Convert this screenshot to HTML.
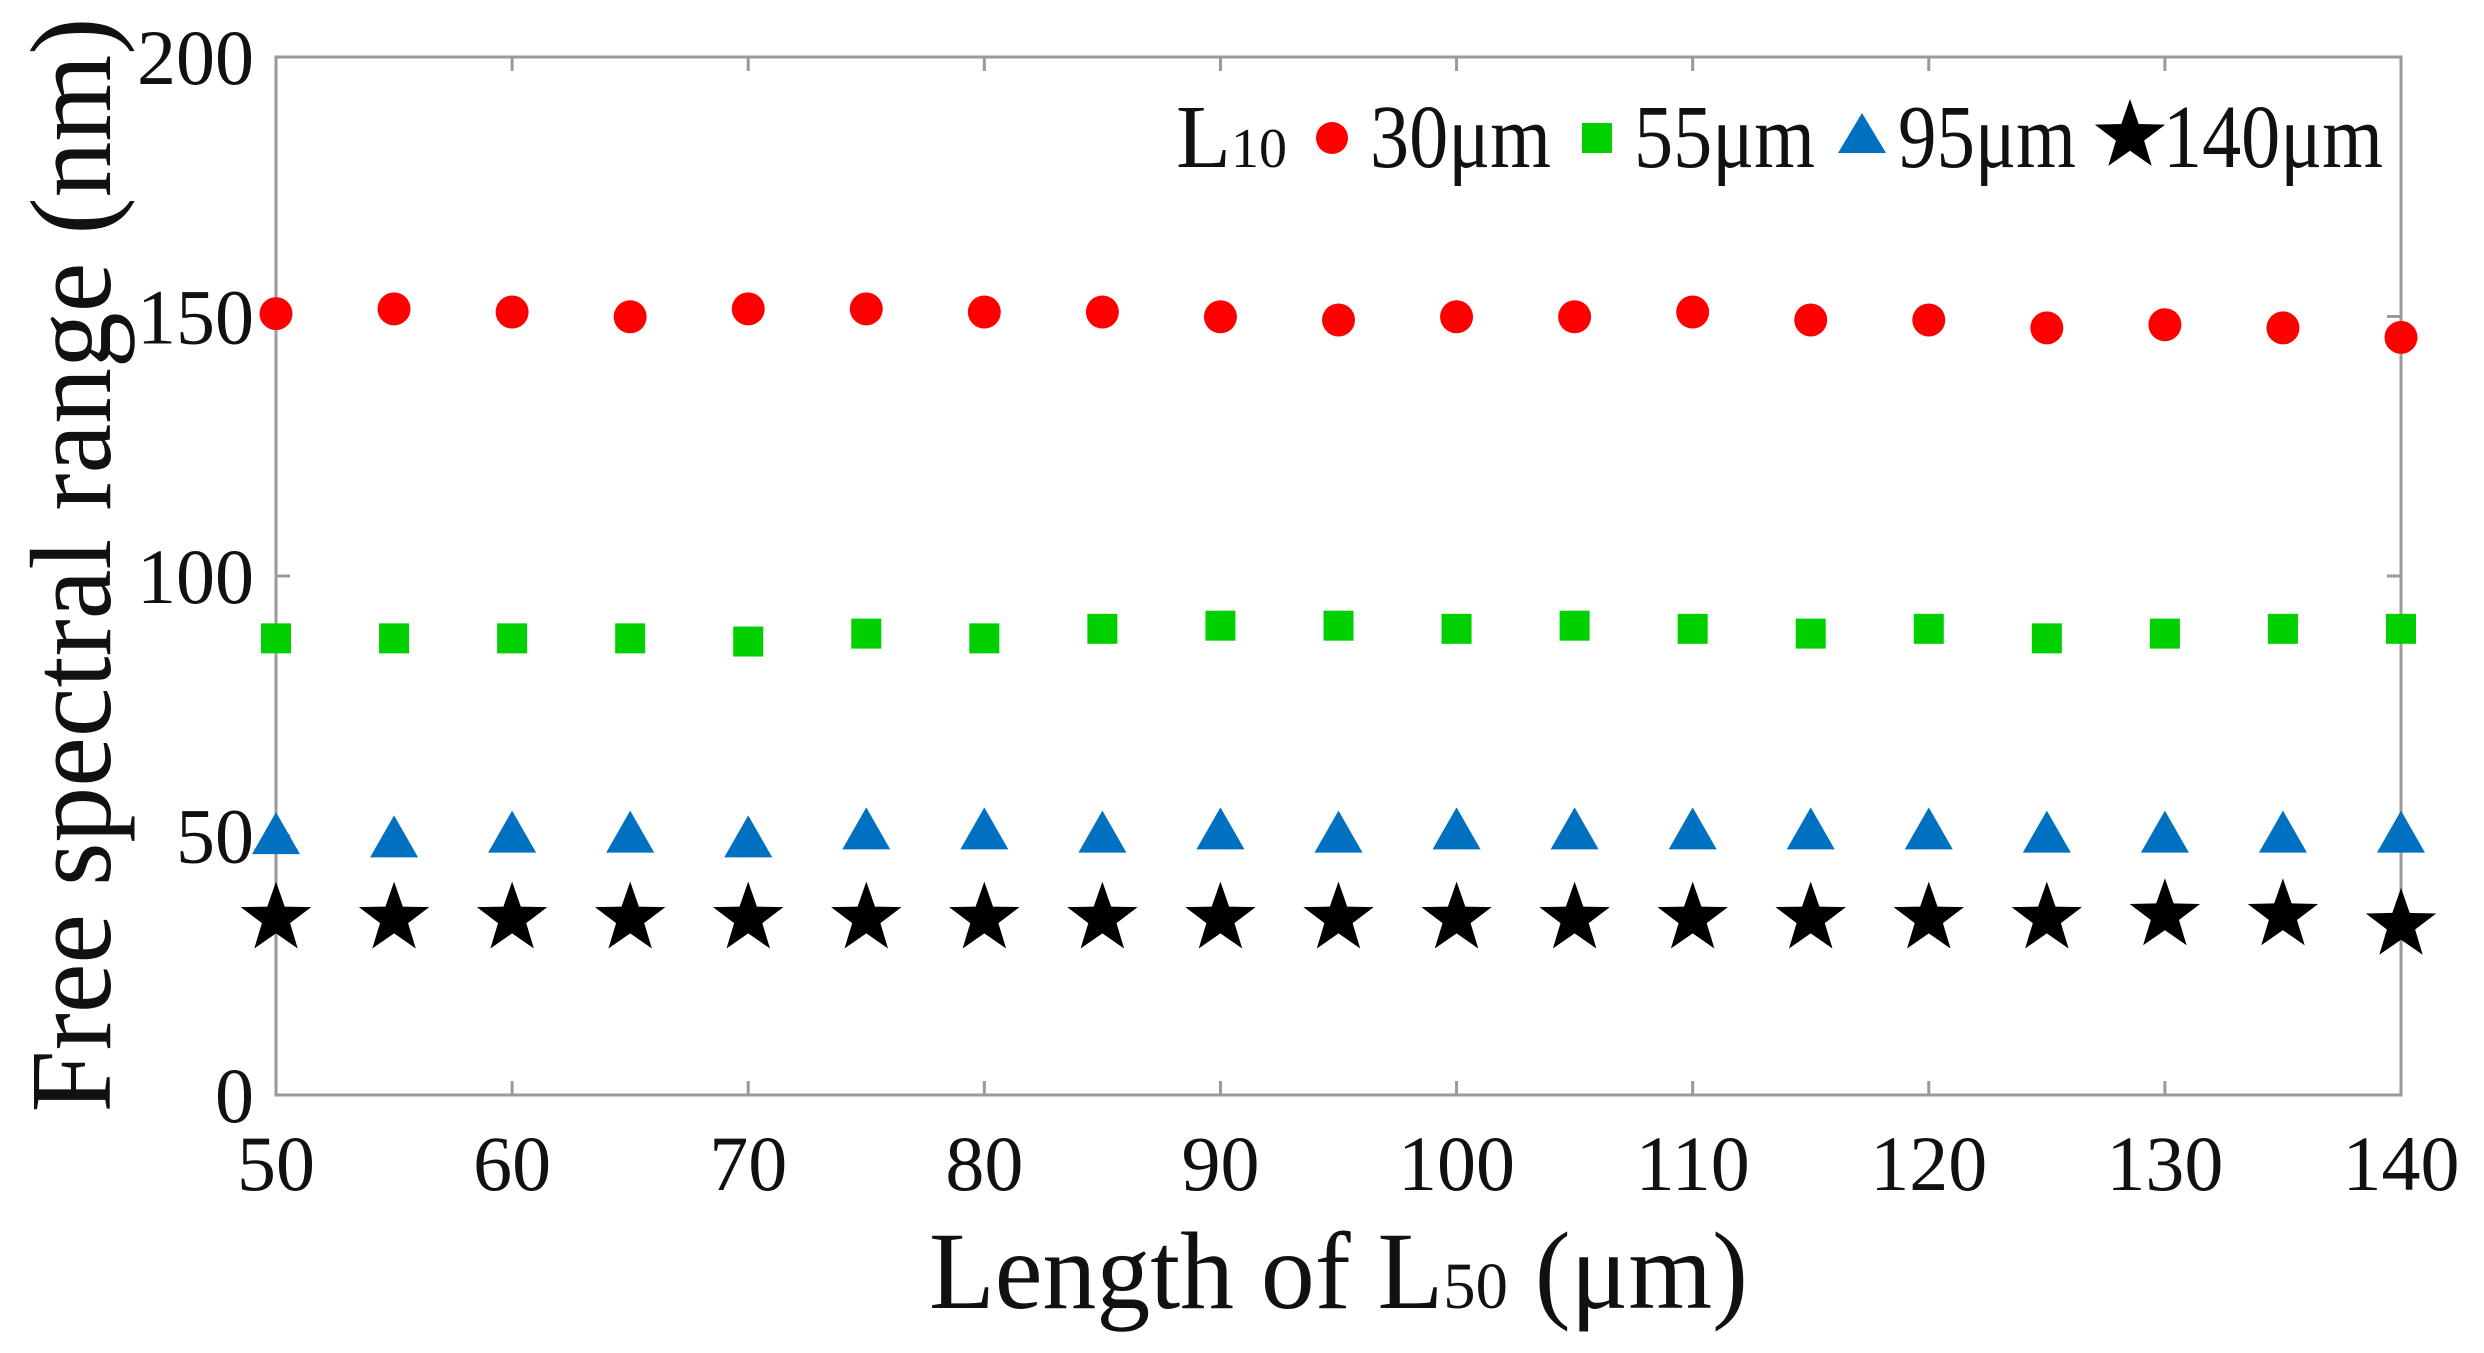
<!DOCTYPE html>
<html><head><meta charset="utf-8"><style>html,body{margin:0;padding:0;background:#fff}svg{display:block}</style></head>
<body>
<svg id="s" xmlns="http://www.w3.org/2000/svg" width="2484" height="1353" viewBox="0 0 2484 1353" font-family="Liberation Serif, serif">
<rect width="2484" height="1353" fill="#fff"/>
<rect x="276" y="57" width="2125" height="1038" fill="none" stroke="#9a9a9a" stroke-width="3"/>
<g id="ticks" stroke="#9a9a9a" stroke-width="3"></g>
<g id="lab" font-size="78" fill="#111"></g>
<text x="929" y="1308" font-size="110" fill="#111" textLength="819" lengthAdjust="spacingAndGlyphs">Length of L<tspan font-size="66">50</tspan> (μm)</text>
<text transform="translate(110,565) rotate(-90)" text-anchor="middle" font-size="115" fill="#111" textLength="1095" lengthAdjust="spacingAndGlyphs">Free spectral range (nm)</text>
<g id="pts"></g>
<g font-size="90" fill="#111">
<text x="1176" y="167">L<tspan font-size="56">10</tspan></text>
<circle cx="1332" cy="138" r="16" fill="#ff0000"/>
<text x="1370" y="167" textLength="181" lengthAdjust="spacingAndGlyphs">30μm</text>
<rect x="1582" y="123" width="30" height="30" fill="#00d000"/>
<text x="1634" y="167" textLength="181" lengthAdjust="spacingAndGlyphs">55μm</text>
<polygon points="1838,153 1886,153 1862,113" fill="#0070c0"/>
<text x="1898" y="167" textLength="178" lengthAdjust="spacingAndGlyphs">95μm</text>
<g id="lstar"></g>
<text x="2163" y="167" textLength="220" lengthAdjust="spacingAndGlyphs">140μm</text>
</g>
</svg>
<script>
var NS="http://www.w3.org/2000/svg";
function el(t,a,p){var e=document.createElementNS(NS,t);for(var k in a)e.setAttribute(k,a[k]);document.getElementById(p).appendChild(e);return e;}
function X(v){return 276+(v-50)*2125/90;}
function Y(v){return 1095-v*1038/200;}
for(var v=50;v<=140;v+=10){var x=X(v);el('line',{x1:x,y1:1095,x2:x,y2:1081},'ticks');el('line',{x1:x,y1:57,x2:x,y2:71},'ticks');
var t=el('text',{x:x,y:1190,'text-anchor':'middle'},'lab');t.textContent=v;}
for(var v=0;v<=200;v+=50){var y=Y(v);el('line',{x1:276,y1:y,x2:290,y2:y},'ticks');el('line',{x1:2401,y1:y,x2:2387,y2:y},'ticks');
var t=el('text',{x:254,y:y+27,'text-anchor':'end'},'lab');t.textContent=v;}
function star(cx,cy,R,p,fill){var s="";for(var i=0;i<10;i++){var r=i%2?R*0.4:R;var a=-Math.PI/2+i*Math.PI/5;s+=(cx+r*Math.cos(a)).toFixed(1)+","+(cy+r*Math.sin(a)).toFixed(1)+" ";}el('polygon',{points:s,fill:fill},p);}
var red=[198,195,197,200,195,195,197,197,200,202,200,200,197,202,202,207,205,207,213];
var grn=[403,403,403,403,405,400,403,397,395,395,397,395,397,400,397,403,400,397,397];
var tri=[526,528,525,525,528,523,523,525,523,525,523,523,523,523,523,525,525,525,525];
var stv=[578,578,578,578,578,578,578,578,578,578,578,578,578,578,578,578,576,576,582];
for(var i=0;i<19;i++){var x=X(50+5*i);
el('circle',{cx:x,cy:red[i]*1.584,r:16.5,fill:'#ff0000'},'pts');
var gy=grn[i]*1.584;el('rect',{x:x-15,y:gy-15,width:30,height:30,fill:'#00d000'},'pts');
var ty=tri[i]*1.584;el('polygon',{points:(x-24)+","+(ty+21)+" "+(x+24)+","+(ty+21)+" "+x+","+(ty-21),fill:'#0070c0'},'pts');
star(x,stv[i]*1.584+3,37,'pts','#000');}
star(2130,136,37,'lstar','#000');
</script>
</body></html>
